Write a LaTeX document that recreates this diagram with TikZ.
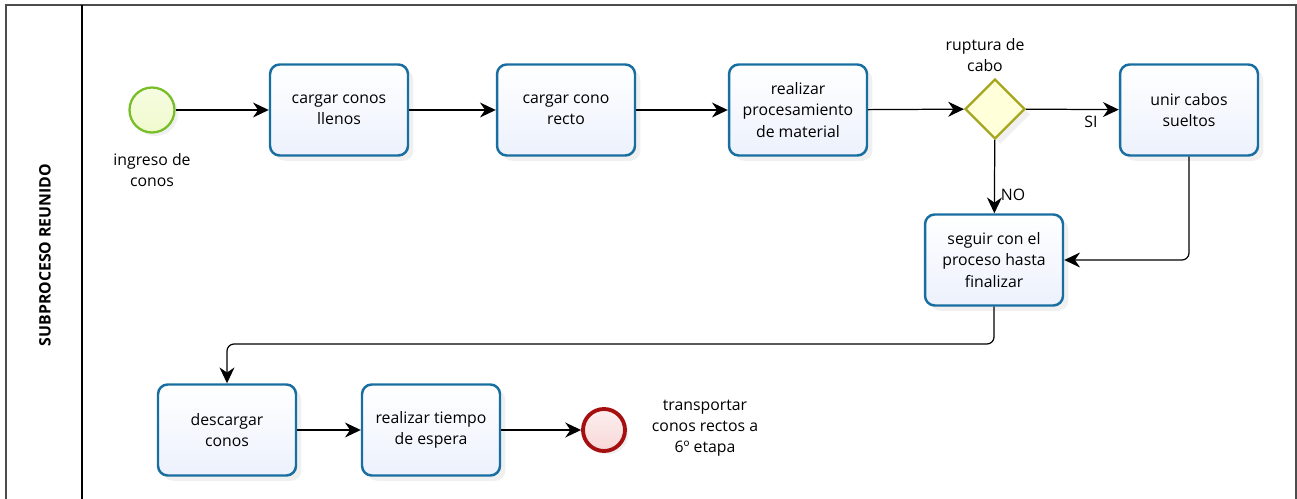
\documentclass[tikz,border=0pt]{standalone}
\usepackage{fontspec}
\setmainfont{Open Sans}
\usetikzlibrary{arrows.meta, shapes.geometric, shadows}
\tikzset{>={Stealth[length=9pt, width=8.5pt]}}

\definecolor{taskline}{RGB}{24,110,160}
\definecolor{taskfill}{RGB}{236,241,252}
\definecolor{gateline}{RGB}{165,165,30}
\definecolor{gatefill}{RGB}{255,255,218}
\definecolor{startline}{RGB}{120,190,40}
\definecolor{startfill}{RGB}{240,250,205}
\definecolor{endline}{RGB}{165,15,15}
\definecolor{endfill}{RGB}{248,215,215}

\tikzset{
    task/.style = {draw=taskline, line width=1.4pt, rounded corners=5.5pt,
        top color=white, bottom color=taskfill,
        minimum width=2.76cm, minimum height=1.82cm, align=center,
        font=\fontsize{9}{12}\selectfont,
        drop shadow={opacity=0.12, shadow xshift=3pt, shadow yshift=-3pt}},
    gateway/.style = {diamond, draw=gateline, line width=1.3pt, fill=gatefill,
        minimum width=1.2cm, minimum height=1.2cm, inner sep=0pt,
        drop shadow={opacity=0.12, shadow xshift=3pt, shadow yshift=-3pt}},
    startev/.style = {circle, draw=startline, line width=1.3pt,
        top color=startfill!60!white, bottom color=startfill,
        minimum size=0.9cm, inner sep=0pt,
        drop shadow={opacity=0.12, shadow xshift=2pt, shadow yshift=-2pt}},
    endev/.style = {circle, draw=endline, line width=2.2pt,
        top color=endfill!40!white, bottom color=endfill,
        minimum size=0.84cm, inner sep=0pt,
        drop shadow={opacity=0.12, shadow xshift=2pt, shadow yshift=-2pt}},
    lbl/.style = {align=center, font=\fontsize{9}{12}\selectfont},
    flow/.style = {->, line width=0.7pt, rounded corners=4pt}
}

\begin{document}
\begin{tikzpicture}[x=0.02cm, y=-0.02cm]
    \useasboundingbox (0,0) rectangle (1297,499);
    % pool and lane
    \draw[line width=1.2pt, black!70] (6,499) -- (6,5) -- (1296,5) -- (1296,499);
    \draw[line width=0.8pt] (82,5) -- (82,499);
    \node[rotate=90, font=\bfseries\fontsize{9}{11}\selectfont] (lane) at (45,255) {SUBPROCESO REUNIDO};

    % events, tasks and gateway
    \node[startev] (ingreso) at (152,110) {};
    \node[lbl] (ingresolbl) at (152,170) {ingreso de\\conos};
    \node[task] (llenos) at (339,110) {cargar conos\\llenos};
    \node[task] (recto) at (566,110) {cargar cono\\recto};
    \node[task] (procesa) at (798,110) {realizar\\procesamiento\\de material};
    \node[gateway] (ruptura) at (995,109) {};
    \node[lbl] (rupturalbl) at (985,55) {ruptura de\\cabo};
    \node[task] (unir) at (1189,110) {unir cabos\\sueltos};
    \node[task] (seguir) at (994,260) {seguir con el\\proceso hasta\\finalizar};
    \node[task] (descarga) at (227,430) {descargar\\conos};
    \node[task] (espera) at (431,430) {realizar tiempo\\de espera};
    \node[endev] (fin) at (604,430) {};
    \node[lbl] (finlbl) at (705,428) {transportar\\conos rectos a\\6º etapa};

    % sequence flows
    \draw[flow] (ingreso) -- (llenos);
    \draw[flow] (llenos) -- (recto);
    \draw[flow] (recto) -- (procesa);
    \draw[flow] (procesa) -- (ruptura);
    \draw[flow] (ruptura) -- node[lbl, below, pos=0.7] (si) {SI} (unir);
    \draw[flow] (ruptura) -- node[lbl, right, pos=0.75] (no) {NO} (seguir);
    \draw[flow] (unir.south) |- (seguir.east);
    \draw[flow] (seguir.south) |- (600,344) -| (descarga.north);
    \draw[flow] (descarga) -- (espera);
    \draw[flow] (espera) -- (fin);
\end{tikzpicture}
\end{document}
